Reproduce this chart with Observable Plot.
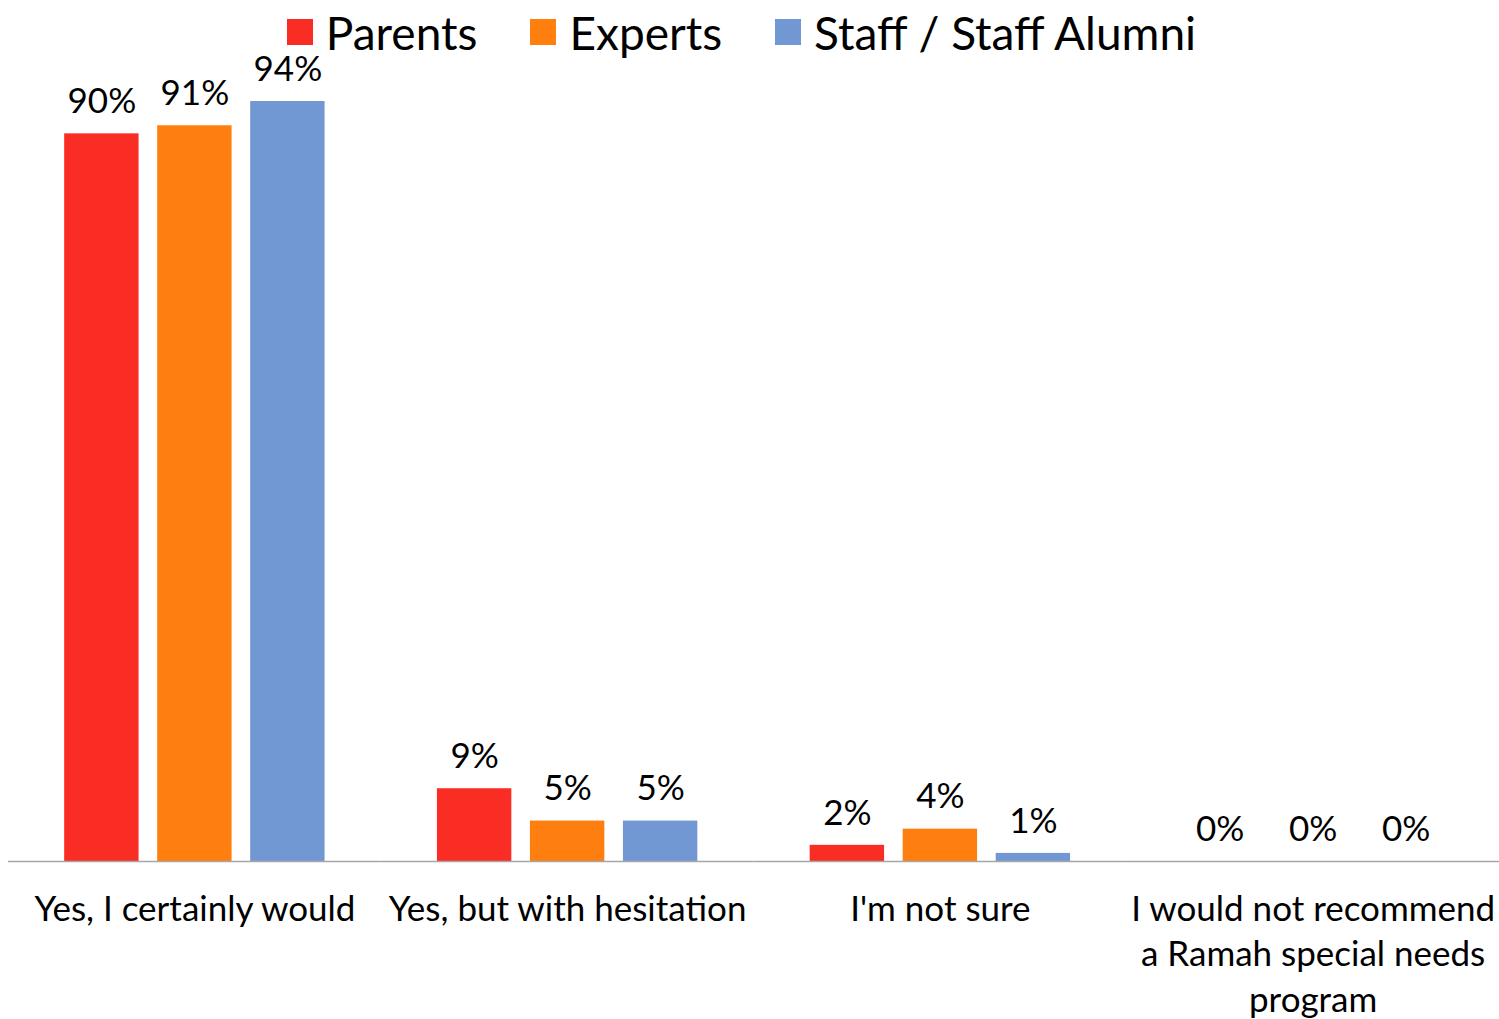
<!DOCTYPE html>
<html><head><meta charset="utf-8">
<script src="https://cdn.jsdelivr.net/npm/d3@7"></script>
<script src="https://cdn.jsdelivr.net/npm/@observablehq/plot@0.6"></script>
<style>
body{margin:0;background:#fff;font-family:Lato,"Open Sans",sans-serif;color:#000;}
#legend{position:absolute;top:0;left:0;width:1499px;height:64px;display:flex;align-items:center;justify-content:center;z-index:2;pointer-events:none;box-sizing:border-box;padding-right:16px;font-size:46px;}
.item{display:flex;align-items:center;margin-right:53px;}
.item:last-child{margin-right:0;}
.sw{width:26px;height:26px;margin-right:13px;}
#chart{padding-top:50px;}
</style></head><body><div id="legend"></div><div id="chart"></div><script>
const categories = ["Yes, I certainly would", "Yes, but with hesitation", "I'm not sure", "I would not recommend a Ramah special needs program"];
const categoryLabels = ["Yes, I certainly would", "Yes, but with hesitation", "I'm not sure", "I would not recommend\na Ramah special needs\nprogram"];
const series = ["Parents", "Experts", "Staff / Staff Alumni"];
const colors = ["#f92d23", "#fe7f10", "#7198d3"];
const parents = [90, 9, 2, 0];
const experts = [91, 5, 4, 0];
const staff = [94, 5, 1, 0];
const values = [parents, experts, staff];

const rows = categories.flatMap((c, i) => series.map((s, j) => ({category: c, series: s, value: values[j][i]})));
const labelOf = new Map(categories.map((c, i) => [c, categoryLabels[i]]));

const legend = document.getElementById("legend");
series.forEach((s, j) => {
  const it = document.createElement("div"); it.className = "item";
  const sw = document.createElement("div"); sw.className = "sw"; sw.style.background = colors[j];
  const t = document.createElement("span"); t.textContent = s;
  it.append(sw, t); legend.append(it);
});

const plot = Plot.plot({
  width: 1499,
  height: 969,
  marginLeft: 8,
  marginRight: 0,
  marginTop: 2.5,
  marginBottom: 158,
  style: {fontFamily: "Lato, 'Open Sans', sans-serif", color: "#000", background: "transparent", overflow: "visible"},
  fx: {domain: categories, paddingInner: 0, paddingOuter: 0, round: false},
  x: {domain: series, paddingInner: 0.2, paddingOuter: 0.604, round: false, axis: null},
  y: {domain: [0, 100], axis: null},
  color: {domain: series, range: colors},
  marks: [
    Plot.barY(rows, {fx: "category", x: "series", y: "value", fill: "series"}),
    Plot.ruleY([0], {stroke: "#a6a6a6", strokeWidth: 1.5}),
    Plot.text(rows, {fx: "category", x: "series", y: "value", text: d => d.value + "%", dy: -32, fontSize: 35, fill: "#000"}),
    Plot.axisFx({anchor: "bottom", tickSize: 0, tickPadding: 27, fontSize: 35, lineHeight: 1.3, label: null, tickFormat: d => labelOf.get(d), fill: "#000"})
  ]
});
document.getElementById("chart").append(plot);
</script></body></html>
